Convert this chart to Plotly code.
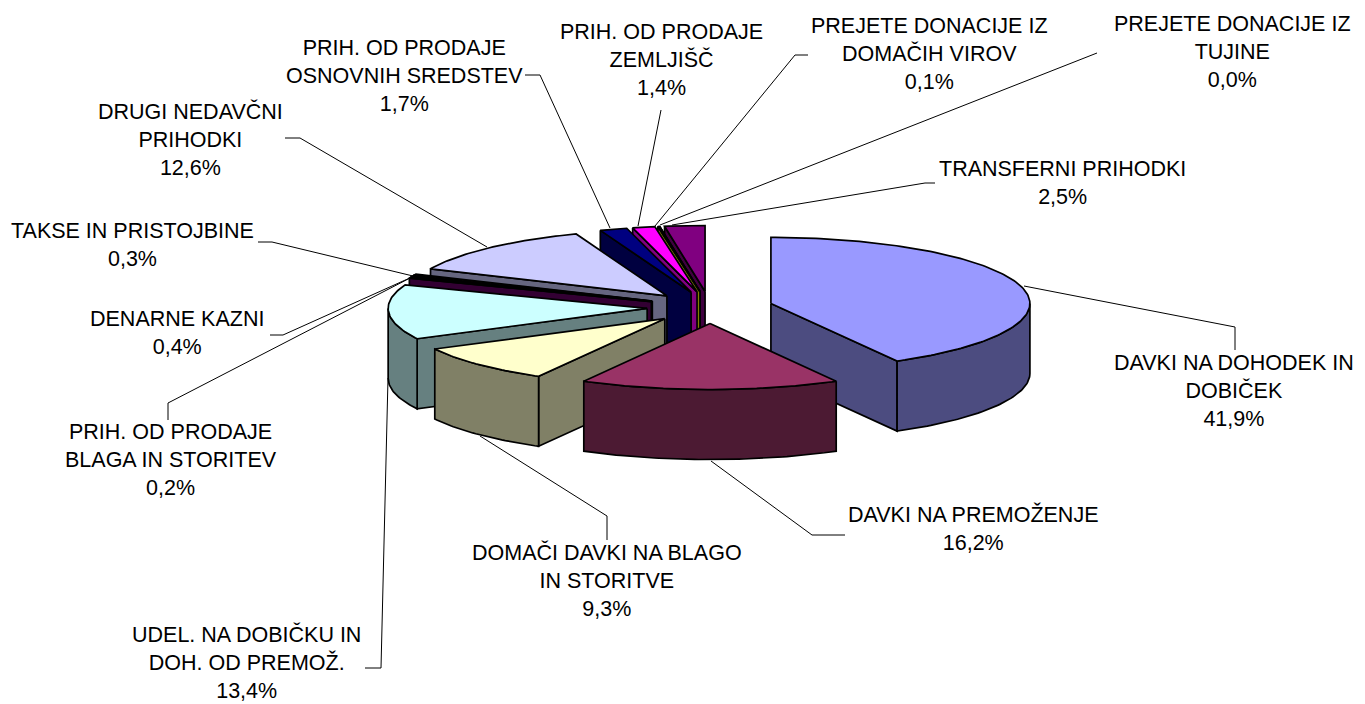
import math
import plotly.graph_objects as go

# ---- data
categories = ["DAVKI NA DOHODEK IN<br>DOBIČEK", "DAVKI NA PREMOŽENJE", "DOMAČI DAVKI NA BLAGO<br>IN STORITVE",
              "UDEL. NA DOBIČKU IN<br>DOH. OD PREMOŽ.", "PRIH. OD PRODAJE<br>BLAGA IN STORITEV", "DENARNE KAZNI",
              "TAKSE IN PRISTOJBINE", "DRUGI NEDAVČNI<br>PRIHODKI", "PRIH. OD PRODAJE<br>OSNOVNIH SREDSTEV",
              "PRIH. OD PRODAJE<br>ZEMLJIŠČ", "PREJETE DONACIJE IZ<br>DOMAČIH VIROV", "PREJETE DONACIJE IZ<br>TUJINE",
              "TRANSFERNI PRIHODKI"]
values = [41.9, 16.2, 9.3, 13.4, 0.2, 0.4, 0.3, 12.6, 1.7, 1.4, 0.1, 0.0, 2.5]
colors = ["#9999FF", "#993366", "#FFFFCC", "#CCFFFF", "#660066", "#FF8080", "#0066CC", "#CCCCFF",
          "#000080", "#FF00FF", "#FFFF00", "#00FFFF", "#800080"]

# ---- label placement (centre x, first-line top y) and leader-line paths
label_pos = [(1234, 349), (973, 500), (607, 538), (246, 620), (171, 418), (177, 305), (132, 217), (190, 97),
             (404, 34), (661, 18), (929, 12), (1232, 10), (1062, 155)]
leaders = [
    [(1024, 286), (1235, 327), (1235, 350)], [(711, 461), (812, 535), (845, 535)], [(480, 436), (607, 516), (607, 540)],
    [(388, 378), (381, 668), (365, 668)], [(412, 277), (168, 403), (168, 420)], [(412, 277), (283, 335), (270, 335)],
    [(413, 276), (272, 242), (258, 242)], [(487, 247), (300, 138), (285, 138)], [(610, 228), (540, 75), (525, 75)],
    [(638, 226), (661, 110)], [(655, 226), (795, 55), (808, 55)], [(660, 225), (1097, 53)],
    [(672, 225), (925, 183), (935, 183)],
]

# ---- pie projection
CX, CY, RX, RY, DEPTH, EXPLODE = 710, 307.5, 259, 66, 70, 0.243
FONT = "Liberation Sans, Arial, sans-serif"


def darker(c):
    r, g, b = (int(c[i:i + 2], 16) for i in (1, 3, 5))
    return "#%02X%02X%02X" % (round(r / 2), round(g / 2), round(b / 2))


def arc(ax, ay, a0, a1):
    n = max(2, int(abs(a1 - a0)) + 2)
    pts = []
    for i in range(n):
        a = math.radians(a0 + (a1 - a0) * i / (n - 1))
        pts.append((ax + RX * math.sin(a), ay - RY * math.cos(a)))
    return pts


def pct(v):
    return f"{v:.1f}%".replace(".", ",")


slices = []
total = sum(values)
acc = 0.0
for v, c, name in zip(values, colors, categories):
    a0 = acc / total * 360
    acc += v
    a1 = acc / total * 360
    mid = math.radians((a0 + a1) / 2)
    ax = CX + EXPLODE * RX * math.sin(mid)
    ay = CY - EXPLODE * RY * math.cos(mid)
    slices.append(dict(a0=a0, a1=a1, ax=ax, ay=ay, c=c, name=name, v=v))

fig = go.Figure()


def poly(pts, fill, s):
    fig.add_trace(go.Scatter(
        x=[p[0] for p in pts] + [pts[0][0]], y=[p[1] for p in pts] + [pts[0][1]],
        mode="lines", fill="toself", fillcolor=fill, line=dict(color="black", width=1.7),
        hoverinfo="text", hovertext=f"{s['name'].replace('<br>', ' ')}: {pct(s['v'])}",
        showlegend=False))


for s in sorted(slices, key=lambda q: q["ay"]):
    ax, ay, a0, a1 = s["ax"], s["ay"], s["a0"], s["a1"]
    side = darker(s["c"])
    # only the cut faces that turn towards the viewer
    visible = ([a0] if 180 < a0 < 360 else []) + ([a1] if 0 < a1 < 180 else [])
    for ang in visible:
        r = arc(ax, ay, ang, ang)[0]
        poly([(ax, ay), r, (r[0], r[1] + DEPTH), (ax, ay + DEPTH)], side, s)
    lo, hi = max(a0, 90), min(a1, 270)
    if hi > lo:
        rim = arc(ax, ay, lo, hi)
        poly(rim + [(x, y + DEPTH) for x, y in reversed(rim)], side, s)
    poly([(ax, ay)] + arc(ax, ay, a0, a1), s["c"], s)

annotations = []
for name, v, (x, y) in zip(categories, values, label_pos):
    annotations.append(dict(x=x, y=y, xref="x", yref="y", xanchor="center", yanchor="top", align="center",
                            showarrow=False, text=f"{name}<br>{pct(v)}",
                            font=dict(family=FONT, size=21.5, color="black")))
shapes = []
for path in leaders:
    d = "M " + " L ".join(f"{x},{y}" for x, y in path)
    shapes.append(dict(type="path", path=d, xref="x", yref="y", layer="below",
                       line=dict(color="black", width=1)))

fig.update_layout(width=1365, height=704, margin=dict(l=0, r=0, t=0, b=0),
                  paper_bgcolor="white", plot_bgcolor="white", showlegend=False,
                  xaxis=dict(visible=False, range=[0, 1365], fixedrange=True),
                  yaxis=dict(visible=False, range=[704, 0], fixedrange=True),
                  annotations=annotations, shapes=shapes)
fig.write_html("out.html", post_script="document.body.style.margin='0';document.body.style.overflow='hidden';",
               config={"displayModeBar": False})
